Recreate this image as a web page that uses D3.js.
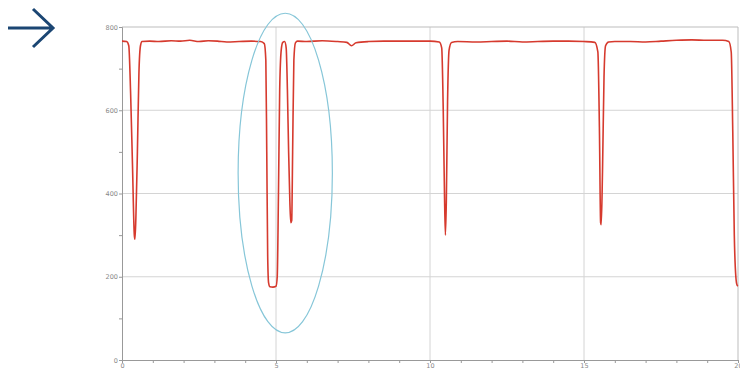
<!DOCTYPE html>
<html>
<head>
<meta charset="utf-8">
<script src="https://cdn.jsdelivr.net/npm/d3@7"></script>
<style>
  body { margin: 0; background: #fff; }
  svg { display: block; }
</style>
</head>
<body>
<div id="chart"></div>
<script>
// signal trace (x in units, y = value)
var xs = [0, 0.15, 0.22, 0.28, 0.34, 0.40, 0.42, 0.45, 0.5, 0.55, 0.6, 0.65, 0.9, 1.2, 1.6, 1.9, 2.2, 2.5, 2.8, 3.1, 3.4, 3.8, 4.2, 4.5,
  4.62, 4.67, 4.70, 4.73, 4.76, 4.8, 4.9, 5.0, 5.04, 5.08, 5.12, 5.17, 5.22, 5.28, 5.33, 5.37, 5.41, 5.45, 5.48, 5.51, 5.54, 5.58, 5.63,
  5.7, 6.0, 6.5, 7.0, 7.3, 7.45, 7.6, 8.0, 8.5, 9.0, 9.5, 10.0, 10.3, 10.38, 10.43, 10.47, 10.5, 10.53, 10.57, 10.62, 10.7, 10.9,
  11.5, 12, 12.5, 13, 13.5, 14, 14.5, 15, 15.35, 15.45, 15.5, 15.54, 15.56, 15.6, 15.65, 15.7, 15.8, 16.0, 16.5, 17, 17.5, 18, 18.5,
  19, 19.5, 19.7, 19.78, 19.83, 19.88, 19.93, 19.97, 20];
var ys = [766, 765, 755, 640, 470, 300, 290, 340, 500, 690, 755, 765, 766, 765, 767, 766, 768, 765, 767, 766, 764, 765, 766, 765,
  760, 720, 500, 250, 185, 176, 175, 177, 200, 400, 650, 745, 763, 765, 750, 650, 500, 380, 330, 335, 500, 720, 762,
  766, 765, 767, 765, 763, 755, 762, 765, 766, 766, 766, 766, 764, 750, 600, 400, 300, 380, 620, 745, 763, 765,
  764, 765, 766, 764, 765, 766, 766, 765, 763, 740, 560, 330, 325, 450, 680, 755, 764, 765, 765, 764, 766, 768, 769,
  768, 768, 765, 740, 550, 300, 200, 180, 178];

var xMajor = [0, 5, 10, 15, 20];
var yMajor = [0, 200, 400, 600, 800];
var xLabels = ["0", "5", "10", "15", "20"];
var yLabels = ["0", "200", "400", "600", "800"];

// highlighted region (centre and half-sizes in data units)
var mark = {cx: 5.3, cy: 449, rx: 1.53, ry: 384};

var width = 740, height = 370;
var pLeft = 122, pRight = 738, pTop = 27, pBottom = 360;

var x = d3.scaleLinear().domain([0, 20]).range([pLeft, pRight]);
var y = d3.scaleLinear().domain([0, 800]).range([pBottom, pTop]);

var svg = d3.select("#chart").append("svg")
  .attr("width", width)
  .attr("height", height);

// arrow
svg.append("path")
  .attr("d", "M8,28H52M33,9L53,28L33,47")
  .attr("fill", "none")
  .attr("stroke", "#1b4673")
  .attr("stroke-width", 3);

// grid
svg.append("g").selectAll("line")
  .data([5, 10, 15])
  .enter().append("line")
  .attr("x1", d => x(d)).attr("x2", d => x(d))
  .attr("y1", pTop).attr("y2", pBottom)
  .attr("stroke", "#d4d4d4");
svg.append("g").selectAll("line")
  .data([200, 400, 600])
  .enter().append("line")
  .attr("x1", pLeft).attr("x2", pRight)
  .attr("y1", d => y(d)).attr("y2", d => y(d))
  .attr("stroke", "#d4d4d4");

// frame top/right
svg.append("path")
  .attr("d", "M" + pLeft + "," + pTop + "H" + pRight + "V" + pBottom)
  .attr("fill", "none")
  .attr("stroke", "#bdbdbd");

// axes
var xAxis = d3.axisBottom(x).tickValues(d3.range(0, 21, 1)).tickSize(3)
  .tickFormat(d => { var i = xMajor.indexOf(d); return i < 0 ? "" : xLabels[i]; });
var gx = svg.append("g").attr("transform", "translate(0," + pBottom + ")").call(xAxis);
var yAxis = d3.axisLeft(y).tickValues(d3.range(0, 801, 100)).tickSize(3)
  .tickFormat(d => { var i = yMajor.indexOf(d); return i < 0 ? "" : yLabels[i]; });
var gy = svg.append("g").attr("transform", "translate(" + pLeft + ",0)").call(yAxis);

[gx, gy].forEach(function(g) {
  g.select(".domain").attr("stroke", "#999");
  g.selectAll(".tick line").attr("stroke", "#999");
  g.selectAll("text").attr("fill", "#888")
    .attr("font-family", "DejaVu Sans, sans-serif")
    .attr("font-size", "6.5px");
});
gx.selectAll("text").attr("dy", "0.6em").attr("y", 4);
gy.selectAll("text").attr("x", -4);

// trace
var line = d3.line()
  .x((d, i) => x(xs[i]))
  .y((d, i) => y(ys[i]))
  .curve(d3.curveMonotoneX);
svg.append("path")
  .datum(ys)
  .attr("d", line)
  .attr("fill", "none")
  .attr("stroke", "#d63a2e")
  .attr("stroke-width", 1.6)
  .attr("stroke-linejoin", "round");

// highlight ellipse
svg.append("ellipse")
  .attr("cx", x(mark.cx))
  .attr("cy", y(mark.cy))
  .attr("rx", x(mark.rx) - x(0))
  .attr("ry", y(0) - y(mark.ry))
  .attr("fill", "none")
  .attr("stroke", "#86c6d8")
  .attr("stroke-width", 1.2);
</script>
</body>
</html>
